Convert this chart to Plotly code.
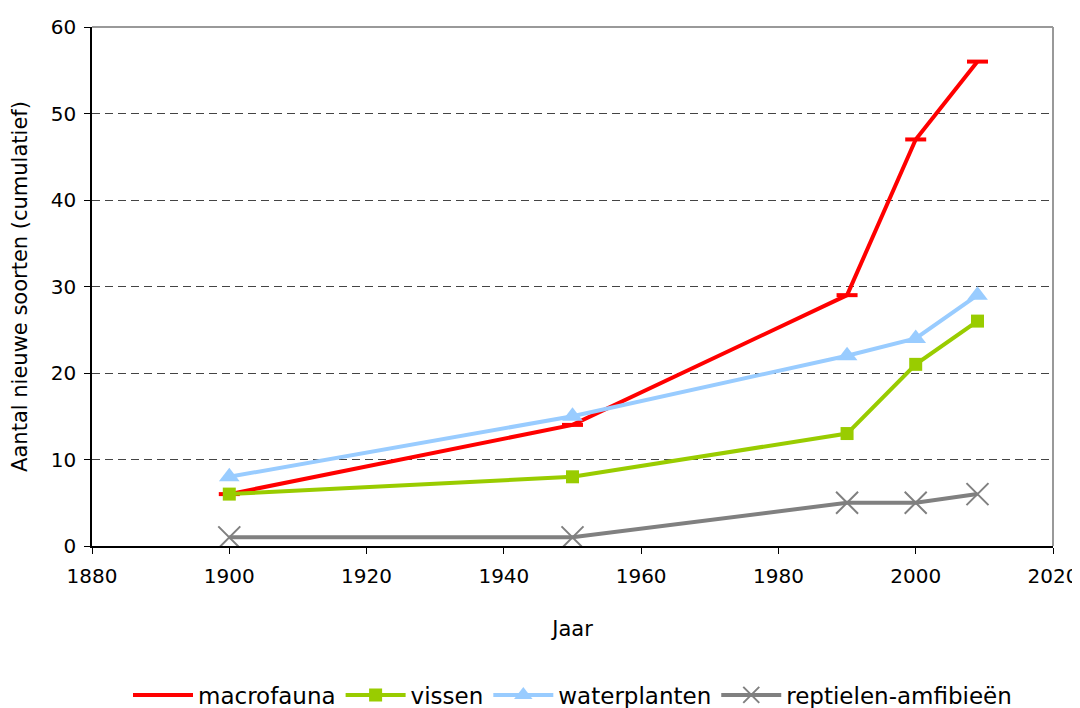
import plotly.graph_objects as go

years = [1900, 1950, 1990, 2000, 2009]
macrofauna = [6, 14, 29, 47, 56]
vissen = [6, 8, 13, 21, 26]
waterplanten = [8, 15, 22, 24, 29]
reptielen = [1, 1, 5, 5, 6]

x_ticks = [1880, 1900, 1920, 1940, 1960, 1980, 2000, 2020]
y_ticks = [0, 10, 20, 30, 40, 50, 60]

FONT = "DejaVu Sans, Liberation Sans, Arial, sans-serif"

fig = go.Figure()
fig.add_trace(go.Scatter(x=years, y=macrofauna, name="macrofauna", mode="lines+markers",
                         line=dict(color="#FF0000", width=4),
                         marker=dict(symbol="line-ew", size=15, color="#FF0000",
                                     line=dict(color="#FF0000", width=4))))
fig.add_trace(go.Scatter(x=years, y=vissen, name="vissen", mode="lines+markers",
                         line=dict(color="#99CC00", width=4),
                         marker=dict(symbol="square", size=13, color="#99CC00")))
fig.add_trace(go.Scatter(x=years, y=waterplanten, name="waterplanten", mode="lines+markers",
                         line=dict(color="#99CCFF", width=4),
                         marker=dict(symbol="triangle-up", size=18, color="#99CCFF")))
fig.add_trace(go.Scatter(x=years, y=reptielen, name="reptielen-amfibieën", mode="lines+markers",
                         line=dict(color="#808080", width=4),
                         marker=dict(symbol="x-thin-open", size=22, color="#808080",
                                     line=dict(color="#808080", width=2))))

fig.update_layout(
    width=1080, height=708,
    margin=dict(l=84, r=35, t=19, b=170, autoexpand=False),
    paper_bgcolor="white", plot_bgcolor="white",
    font=dict(family=FONT, size=20, color="black"),
    legend=dict(orientation="h", x=0.5, xanchor="center", y=-0.287, yanchor="middle",
                font=dict(size=23), itemwidth=60, tracegroupgap=0),
    showlegend=True,
)
fig.update_xaxes(range=[1880, 2020], tickvals=x_ticks, ticks="outside", ticklen=6,
                 tickcolor="black", showline=True, linecolor="black", linewidth=1.5,
                 showgrid=False, zeroline=False, automargin=False, ticklabelstandoff=5,
                 title=dict(text="Jaar", font=dict(size=21), standoff=35),
                 tickfont=dict(size=20))
fig.update_yaxes(range=[0, 60], tickvals=y_ticks, ticks="outside", ticklen=6,
                 tickcolor="black", showline=True, linecolor="black", linewidth=1.5,
                 showgrid=True, gridcolor="#444444", griddash="8px,5px", gridwidth=1,
                 zeroline=False, automargin=False, ticklabelstandoff=4,
                 title=dict(text="Aantal nieuwe soorten (cumulatief)", font=dict(size=21), standoff=20),
                 tickfont=dict(size=20))

fig.add_shape(type="line", xref="paper", yref="paper", x0=0, x1=1, y0=1, y1=1,
              line=dict(color="#999999", width=2), layer="above")
fig.add_shape(type="line", xref="paper", yref="paper", x0=1, x1=1, y0=0, y1=1,
              line=dict(color="#999999", width=2), layer="above")

fig.write_html("out.html")
